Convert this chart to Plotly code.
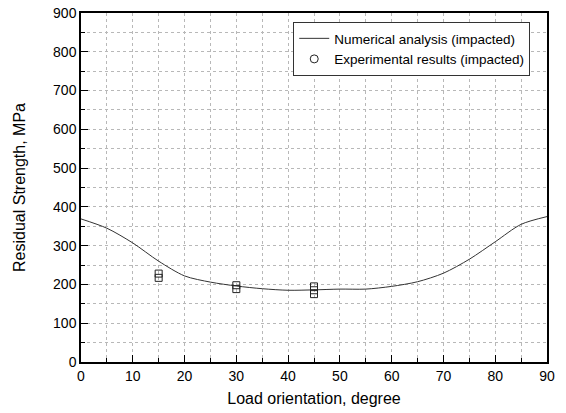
import plotly.graph_objects as go

angle_num = [0, 5, 10, 15, 20, 25, 30, 35, 40, 45, 50, 55, 60, 65, 70, 75, 80, 85, 90]
strength_num = [369, 345, 307, 260, 222, 206, 196, 189, 185, 186, 188, 188, 195, 207, 229, 265, 310, 355, 375]

angle_exp = [15, 15, 30, 30, 45, 45, 45]
strength_exp = [228, 217, 198, 188, 195, 185, 175]

x_ticks = [0, 10, 20, 30, 40, 50, 60, 70, 80, 90]
y_ticks = [0, 100, 200, 300, 400, 500, 600, 700, 800, 900]

FONT = "Liberation Sans, Arial, sans-serif"
GRID = "#b8b8b8"

fig = go.Figure()
fig.add_trace(go.Scatter(
    x=angle_num, y=strength_num, mode="lines",
    line=dict(color="#333", width=1, shape="spline", smoothing=0.8),
    name="Numerical analysis (impacted)"))
fig.add_trace(go.Scatter(
    x=angle_exp, y=strength_exp, mode="markers",
    marker=dict(symbol="square-open", size=7, color="#222", line=dict(width=1)),
    name="Experimental results (impacted)", showlegend=False))
fig.add_trace(go.Scatter(
    x=[None], y=[None], mode="markers",
    marker=dict(symbol="circle-open", size=8, color="#222", line=dict(width=1)),
    name="Experimental results (impacted)"))

axis_common = dict(
    showline=True, linecolor="black", linewidth=1.5, mirror=True,
    ticks="inside", ticklen=7, tickcolor="black", tickwidth=1,
    showgrid=True, gridcolor=GRID, griddash="dot", gridwidth=1,
    zeroline=False, automargin=False,
    tickfont=dict(family=FONT, size=14, color="black"),
)

fig.update_xaxes(
    range=[0, 90], tickvals=x_ticks,
    minor=dict(dtick=5, ticks="inside", ticklen=4, tickcolor="black", showgrid=True,
               gridcolor=GRID, griddash="dot", gridwidth=1),
    title=dict(text="Load orientation, degree", font=dict(family=FONT, size=16, color="black"), standoff=10),
    **axis_common)
fig.update_yaxes(
    range=[0, 900], tickvals=y_ticks,
    minor=dict(dtick=50, ticks="inside", ticklen=4, tickcolor="black", showgrid=True,
               gridcolor=GRID, griddash="dot", gridwidth=1),
    title=dict(text="Residual Strength, MPa", font=dict(family=FONT, size=16, color="black"), standoff=23),
    **axis_common)

fig.update_layout(
    width=566, height=413,
    margin=dict(l=81, r=19, t=13, b=51),
    paper_bgcolor="white", plot_bgcolor="white",
    font=dict(family=FONT, size=13, color="black"),
    legend=dict(x=0.964, y=0.974, xanchor="right", yanchor="top",
                bgcolor="white", bordercolor="#333", borderwidth=1,
                font=dict(family=FONT, size=13.5, color="black"),
                tracegroupgap=0, itemwidth=30),
)

fig.write_html("out.html", config={"displayModeBar": False},
               post_script="document.body.style.margin='0';document.body.style.overflow='hidden';")
